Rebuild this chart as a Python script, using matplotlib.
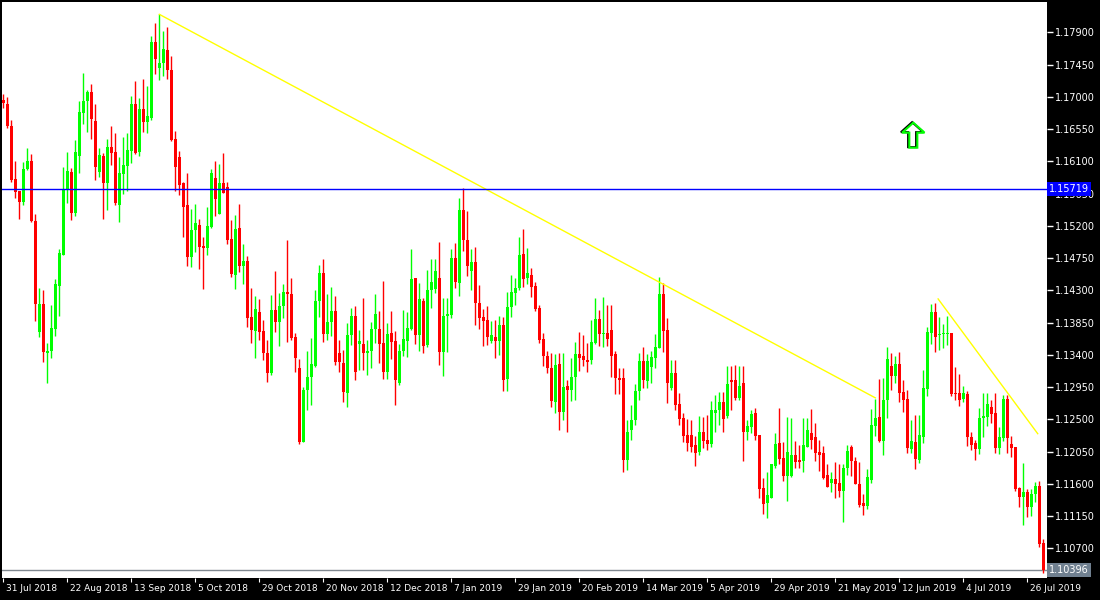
import matplotlib
matplotlib.use("Agg")
import matplotlib.pyplot as plt
import matplotlib.transforms as mt
from matplotlib.patches import Polygon

opens = [1.1696,1.1690,1.1659,1.1585,1.1569,1.1553,1.1599,1.1610,1.1527,1.1372,
1.1411,1.1343,1.1345,1.1376,1.1436,1.1479,1.1571,1.1595,1.1538,1.1617,
1.1677,1.1694,1.1707,1.1666,1.1595,1.1617,1.1580,1.1630,1.1623,1.1549,
1.1592,1.1603,1.1624,1.1690,1.1623,1.1683,1.1665,1.1670,1.1776,1.1740,
1.1747,1.1765,1.1737,1.1641,1.1616,1.1580,1.1549,1.1476,1.1514,1.1521,
1.1492,1.1489,1.1518,1.1587,1.1537,1.1580,1.1574,1.1502,1.1451,1.1517,
1.1464,1.1471,1.1393,1.1373,1.1400,
1.1373,1.1343,1.1315,1.1403,1.1386,1.1408,1.1428,1.1425,1.1365,1.1322,
1.1218,1.1291,1.1309,1.1324,1.1415,1.1454,1.1369,1.1386,1.1401,1.1343,
1.1329,1.1287,1.1368,1.1394,1.1355,1.1355,1.1343,1.1345,1.1376,1.1376,
1.1357,1.1316,1.1371,1.1359,1.1301,1.1346,1.1359,1.1376,1.1447,1.1368,
1.1415,1.1354,1.1430,1.1432,1.1447,1.1344,1.1394,1.1396,1.1475,1.1440,
1.1542,1.1500,1.1457,1.1470,1.1412,1.1393,1.1389,1.1359,1.1365,1.1359,
1.1382,1.1306,1.1407,1.1426,1.1433,
1.1481,1.1447,1.1451,1.1436,1.1405,1.1362,1.1338,1.1322,1.1274,1.1327,
1.1260,1.1296,1.1291,1.1309,1.1341,1.1338,1.1333,1.1333,1.1357,1.1390,
1.1369,1.1370,1.1375,1.1341,1.1308,1.1308,1.1193,1.1235,1.1249,1.1290,
1.1331,1.1303,1.1323,1.1336,1.1350,1.1425,1.1375,1.1294,1.1315,1.1271,
1.1252,1.1228,1.1228,1.1214,1.1204,1.1233,1.1221,1.1216,1.1259,1.1263,
1.1274,1.1255,1.1305,1.1305,1.1280,1.1301,
1.1232,1.1239,1.1259,1.1228,1.1154,1.1133,1.1140,1.1185,1.1217,1.1196,
1.1171,1.1171,1.1200,1.1193,1.1192,1.1211,1.1231,1.1225,1.1204,1.1203,
1.1173,1.1161,1.1167,1.1161,1.1150,1.1182,1.1211,1.1192,1.1160,1.1133,
1.1129,1.1165,1.1241,1.1253,1.1220,
1.1277,1.1324,1.1311,1.1327,1.1288,1.1278,1.1209,1.1218,1.1193,1.1225,
1.1292,1.1370,1.1400,1.1368,1.1369,1.1369,1.1370,1.1287,1.1287,1.1278,
1.1285,1.1225,1.1217,1.1209,1.1252,1.1253,1.1267,1.1259,1.1210,1.1224,
1.1278,1.1216,1.1211,1.1154,1.1142,1.1149,1.1128,1.1146,1.1157,1.1077]

highs = [1.1704,1.1700,1.1668,1.1610,1.1569,1.1609,1.1629,1.1620,1.1537,1.1433,
1.1430,1.1357,1.1410,1.1446,1.1487,1.1602,1.1623,1.1601,1.1640,1.1694,
1.1733,1.1709,1.1718,1.1690,1.1629,1.1622,1.1641,1.1659,1.1649,1.1616,
1.1644,1.1649,1.1701,1.1722,1.1698,1.1725,1.1715,1.1785,1.1803,1.1815,
1.1792,1.1797,1.1757,1.1652,1.1624,1.1581,1.1594,1.1543,1.1550,1.1530,
1.1504,1.1546,1.1599,1.1610,1.1606,1.1622,1.1581,1.1528,1.1535,1.1550,
1.1495,1.1478,1.1433,1.1422,1.1418,
1.1389,1.1361,1.1424,1.1457,1.1426,1.1439,1.1500,1.1447,1.1371,1.1334,
1.1295,1.1346,1.1364,1.1430,1.1465,1.1474,1.1425,1.1435,1.1422,1.1361,
1.1347,1.1384,1.1405,1.1408,1.1375,1.1419,1.1361,1.1386,1.1425,1.1401,
1.1443,1.1384,1.1401,1.1373,1.1355,1.1403,1.1400,1.1487,1.1447,1.1440,
1.1419,1.1458,1.1474,1.1474,1.1497,1.1419,1.1419,1.1487,1.1496,1.1559,
1.1573,1.1541,1.1487,1.1490,1.1437,1.1404,1.1408,1.1387,1.1389,1.1394,
1.1393,1.1428,1.1451,1.1447,1.1504,
1.1515,1.1489,1.1461,1.1442,1.1410,1.1371,1.1346,1.1343,1.1341,1.1343,
1.1343,1.1305,1.1336,1.1358,1.1372,1.1368,1.1357,1.1389,1.1419,1.1403,
1.1421,1.1410,1.1410,1.1346,1.1322,1.1322,1.1249,1.1270,1.1300,1.1343,
1.1351,1.1341,1.1346,1.1369,1.1449,1.1440,1.1391,1.1333,1.1333,1.1287,
1.1259,1.1251,1.1249,1.1227,1.1255,1.1253,1.1256,1.1276,1.1284,1.1288,
1.1288,1.1324,1.1324,1.1326,1.1324,1.1324,
1.1249,1.1263,1.1266,1.1228,1.1168,1.1177,1.1188,1.1231,1.1266,1.1218,
1.1253,1.1252,1.1220,1.1214,1.1252,1.1252,1.1264,1.1245,1.1221,1.1213,
1.1188,1.1177,1.1190,1.1188,1.1188,1.1214,1.1214,1.1197,1.1190,1.1146,
1.1181,1.1264,1.1278,1.1306,1.1308,
1.1351,1.1343,1.1338,1.1344,1.1305,1.1291,1.1249,1.1256,1.1256,1.1319,
1.1379,1.1411,1.1412,1.1393,1.1383,1.1394,1.1370,1.1323,1.1313,1.1297,
1.1290,1.1232,1.1221,1.1266,1.1287,1.1287,1.1277,1.1287,1.1239,1.1284,
1.1284,1.1227,1.1211,1.1155,1.1189,1.1153,1.1153,1.1163,1.1164,1.1083]

lows = [1.1684,1.1656,1.1581,1.1559,1.1530,1.1549,1.1598,1.1525,1.1387,1.1365,
1.1330,1.1301,1.1336,1.1366,1.1394,1.1479,1.1552,1.1528,1.1534,1.1594,
1.1662,1.1651,1.1641,1.1584,1.1588,1.1530,1.1542,1.1605,1.1549,1.1525,
1.1564,1.1569,1.1608,1.1620,1.1617,1.1651,1.1649,1.1668,1.1732,1.1723,
1.1729,1.1725,1.1638,1.1569,1.1563,1.1504,1.1464,1.1462,1.1483,1.1460,
1.1432,1.1479,1.1517,1.1534,1.1537,1.1566,1.1495,1.1449,1.1432,1.1456,
1.1439,1.1379,1.1357,1.1336,1.1361,
1.1333,1.1302,1.1312,1.1372,1.1352,1.1391,1.1358,1.1361,1.1316,1.1216,
1.1218,1.1263,1.1270,1.1323,1.1393,1.1358,1.1361,1.1366,1.1326,1.1316,
1.1274,1.1267,1.1354,1.1305,1.1319,1.1319,1.1312,1.1322,1.1357,1.1329,
1.1306,1.1306,1.1334,1.1270,1.1298,1.1338,1.1337,1.1375,1.1355,1.1346,
1.1343,1.1351,1.1405,1.1426,1.1326,1.1311,1.1344,1.1391,1.1433,1.1422,
1.1485,1.1450,1.1430,1.1382,1.1376,1.1352,1.1354,1.1357,1.1336,1.1340,
1.1290,1.1290,1.1393,1.1410,1.1430,
1.1435,1.1439,1.1420,1.1401,1.1357,1.1324,1.1315,1.1267,1.1259,1.1235,
1.1249,1.1233,1.1276,1.1277,1.1318,1.1324,1.1316,1.1327,1.1355,1.1352,
1.1351,1.1352,1.1309,1.1285,1.1285,1.1177,1.1179,1.1221,1.1242,1.1277,
1.1294,1.1294,1.1301,1.1322,1.1350,1.1344,1.1273,1.1291,1.1263,1.1242,
1.1218,1.1206,1.1204,1.1185,1.1200,1.1210,1.1207,1.1211,1.1232,1.1242,
1.1232,1.1252,1.1263,1.1277,1.1277,1.1192,
1.1221,1.1231,1.1221,1.1140,1.1118,1.1112,1.1140,1.1182,1.1188,1.1164,
1.1136,1.1170,1.1182,1.1182,1.1177,1.1211,1.1209,1.1192,1.1178,1.1167,
1.1155,1.1149,1.1140,1.1142,1.1107,1.1173,1.1171,1.1160,1.1128,1.1117,
1.1125,1.1161,1.1227,1.1218,1.1200,
1.1252,1.1291,1.1301,1.1274,1.1260,1.1203,1.1203,1.1181,1.1189,1.1217,
1.1283,1.1355,1.1344,1.1347,1.1350,1.1354,1.1283,1.1277,1.1269,1.1274,
1.1213,1.1207,1.1193,1.1202,1.1225,1.1241,1.1245,1.1203,1.1202,1.1220,
1.1203,1.1197,1.1150,1.1128,1.1102,1.1114,1.1115,1.1135,1.1072,1.1036]

closes = [1.1691,1.1659,1.1584,1.1567,1.1553,1.1599,1.1610,1.1527,1.1411,1.1411,
1.1344,1.1345,1.1377,1.1439,1.1482,1.1571,1.1596,1.1538,1.1623,1.1679,
1.1694,1.1707,1.1669,1.1602,1.1619,1.1580,1.1630,1.1622,1.1552,1.1594,
1.1605,1.1626,1.1690,1.1622,1.1683,1.1665,1.1673,1.1776,1.1753,1.1747,
1.1767,1.1737,1.1640,1.1602,1.1577,1.1546,1.1476,1.1514,1.1524,1.1490,
1.1489,1.1520,1.1594,1.1557,1.1580,1.1566,1.1500,1.1453,1.1515,1.1464,
1.1471,1.1391,1.1375,1.1404,1.1372,
1.1343,1.1315,1.1403,1.1386,1.1408,1.1428,1.1425,1.1364,1.1336,1.1218,
1.1291,1.1309,1.1327,1.1415,1.1454,1.1369,1.1386,1.1401,1.1330,1.1330,
1.1288,1.1368,1.1394,1.1316,1.1359,1.1343,1.1345,1.1376,1.1397,1.1355,
1.1316,1.1369,1.1358,1.1305,1.1346,1.1362,1.1377,1.1446,1.1368,1.1418,
1.1352,1.1430,1.1442,1.1457,1.1344,1.1394,1.1397,1.1475,1.1442,1.1542,
1.1500,1.1464,1.1470,1.1412,1.1391,1.1387,1.1365,1.1368,1.1359,1.1382,
1.1305,1.1407,1.1428,1.1433,1.1479,
1.1446,1.1454,1.1435,1.1404,1.1361,1.1338,1.1322,1.1276,1.1326,1.1260,
1.1295,1.1291,1.1309,1.1341,1.1336,1.1333,1.1330,1.1358,1.1390,1.1369,
1.1370,1.1362,1.1338,1.1308,1.1305,1.1193,1.1233,1.1249,1.1290,1.1331,
1.1305,1.1331,1.1337,1.1351,1.1425,1.1373,1.1301,1.1315,1.1270,1.1251,
1.1227,1.1217,1.1211,1.1203,1.1232,1.1220,1.1216,1.1263,1.1263,1.1274,
1.1251,1.1299,1.1302,1.1280,1.1296,1.1232,
1.1241,1.1258,1.1227,1.1153,1.1132,1.1145,1.1188,1.1216,1.1195,1.1171,
1.1204,1.1200,1.1190,1.1190,1.1214,1.1235,1.1221,1.1203,1.1200,1.1168,
1.1155,1.1167,1.1160,1.1150,1.1182,1.1206,1.1192,1.1160,1.1130,1.1129,
1.1170,1.1242,1.1252,1.1220,1.1277,
1.1334,1.1311,1.1327,1.1287,1.1277,1.1210,1.1220,1.1195,1.1228,1.1294,
1.1372,1.1400,1.1365,1.1369,1.1370,1.1370,1.1285,1.1285,1.1277,1.1287,
1.1225,1.1214,1.1209,1.1252,1.1255,1.1271,1.1258,1.1210,1.1225,1.1278,
1.1224,1.1210,1.1153,1.1142,1.1149,1.1128,1.1146,1.1157,1.1076,1.10396]

date_labels = ["31 Jul 2018","22 Aug 2018","13 Sep 2018","5 Oct 2018","29 Oct 2018",
"20 Nov 2018","12 Dec 2018","7 Jan 2019","29 Jan 2019","20 Feb 2019","14 Mar 2019",
"5 Apr 2019","29 Apr 2019","21 May 2019","12 Jun 2019","4 Jul 2019","26 Jul 2019"]
price_ticks = [1.17900,1.17450,1.17000,1.16550,1.16100,1.15650,1.15200,1.14750,
1.14300,1.13850,1.13400,1.12950,1.12500,1.12050,1.11600,1.11150,1.10700]
hline_blue = 1.15719
last_price = 1.10396
trend1 = [(39, 1.1815), (218, 1.1280)]
trend2 = [(233.7, 1.1418), (258.6, 1.1230)]
arrow_pos = (227.5, 1.1629)

fig = plt.figure(figsize=(11, 6), dpi=100, facecolor="black")
ax = fig.add_axes([2/1100, 22/600, 1045/1100, 576/600])
ax.set_facecolor("white")
n = len(closes)
ax.set_xlim(-0.33, -0.33 + 1045/4)
ax.set_ylim(1.10287, 1.18322)

up, dn = "#00ff00", "#ff0000"
for i in range(n):
    o, h, l, c = opens[i], highs[i], lows[i], closes[i]
    col = up if c >= o else dn
    ax.vlines(i, l, h, color=col, linewidth=1.0, zorder=3)
    lo, hi = min(o, c), max(o, c)
    ax.bar(i, max(hi - lo, 0.00003), bottom=lo, width=0.75, color=col,
           linewidth=0, zorder=4)

ax.plot([p[0] for p in trend1], [p[1] for p in trend1], color="#ffff00", lw=1, zorder=5)
ax.plot([p[0] for p in trend2], [p[1] for p in trend2], color="#ffff00", lw=1, zorder=5)
ax.axhline(hline_blue, color="#0000ff", lw=1, zorder=5)
ax.axhline(last_price, color="#808890", lw=1, zorder=2)

# up arrow object
ax_, ay = arrow_pos
ys = 0.0001395
arr = [(ax_-1.0, ay), (ax_+1.0, ay), (ax_+1.0, ay+15*ys), (ax_+2.8, ay+15*ys),
       (ax_, ay+25*ys), (ax_-2.8, ay+15*ys), (ax_-1.0, ay+15*ys)]
ax.add_patch(Polygon([(x-0.3, y+0.5*ys) for x, y in arr], closed=True, fill=False,
                     edgecolor="black", lw=1.5, zorder=6))
ax.add_patch(Polygon(arr, closed=True, fill=False, edgecolor="#00ff00", lw=1.5, zorder=7))

ax.yaxis.tick_right()
ax.set_yticks(price_ticks)
ax.set_yticklabels([f"{p:.5f}" for p in price_ticks], color="white", fontsize=7)
ax.tick_params(axis="y", colors="white", length=4, width=1, direction="out", pad=2)
ax.set_xticks([16*k for k in range(len(date_labels))])
ax.set_xticklabels(date_labels, color="white", fontsize=6.5, ha="left")
ax.tick_params(axis="x", colors="white", length=3, direction="out", pad=1)
offs = mt.ScaledTranslation(2/72, 0, fig.dpi_scale_trans)
for lbl in ax.get_xticklabels():
    lbl.set_transform(lbl.get_transform() + offs)
for s in ax.spines.values():
    s.set_visible(False)

ax.text(1.002, hline_blue, f"{hline_blue:.5f}", transform=ax.get_yaxis_transform(),
        color="white", fontsize=7, va="center", ha="left",
        bbox=dict(boxstyle="square,pad=0.2", fc="#0000ff", ec="none"), zorder=10, clip_on=False)
ax.text(1.002, last_price, f"{last_price:.5f}", transform=ax.get_yaxis_transform(),
        color="white", fontsize=7, va="center", ha="left",
        bbox=dict(boxstyle="square,pad=0.2", fc="#708090", ec="none"), zorder=10, clip_on=False)

fig.savefig("out.png", dpi=100, facecolor="black")
